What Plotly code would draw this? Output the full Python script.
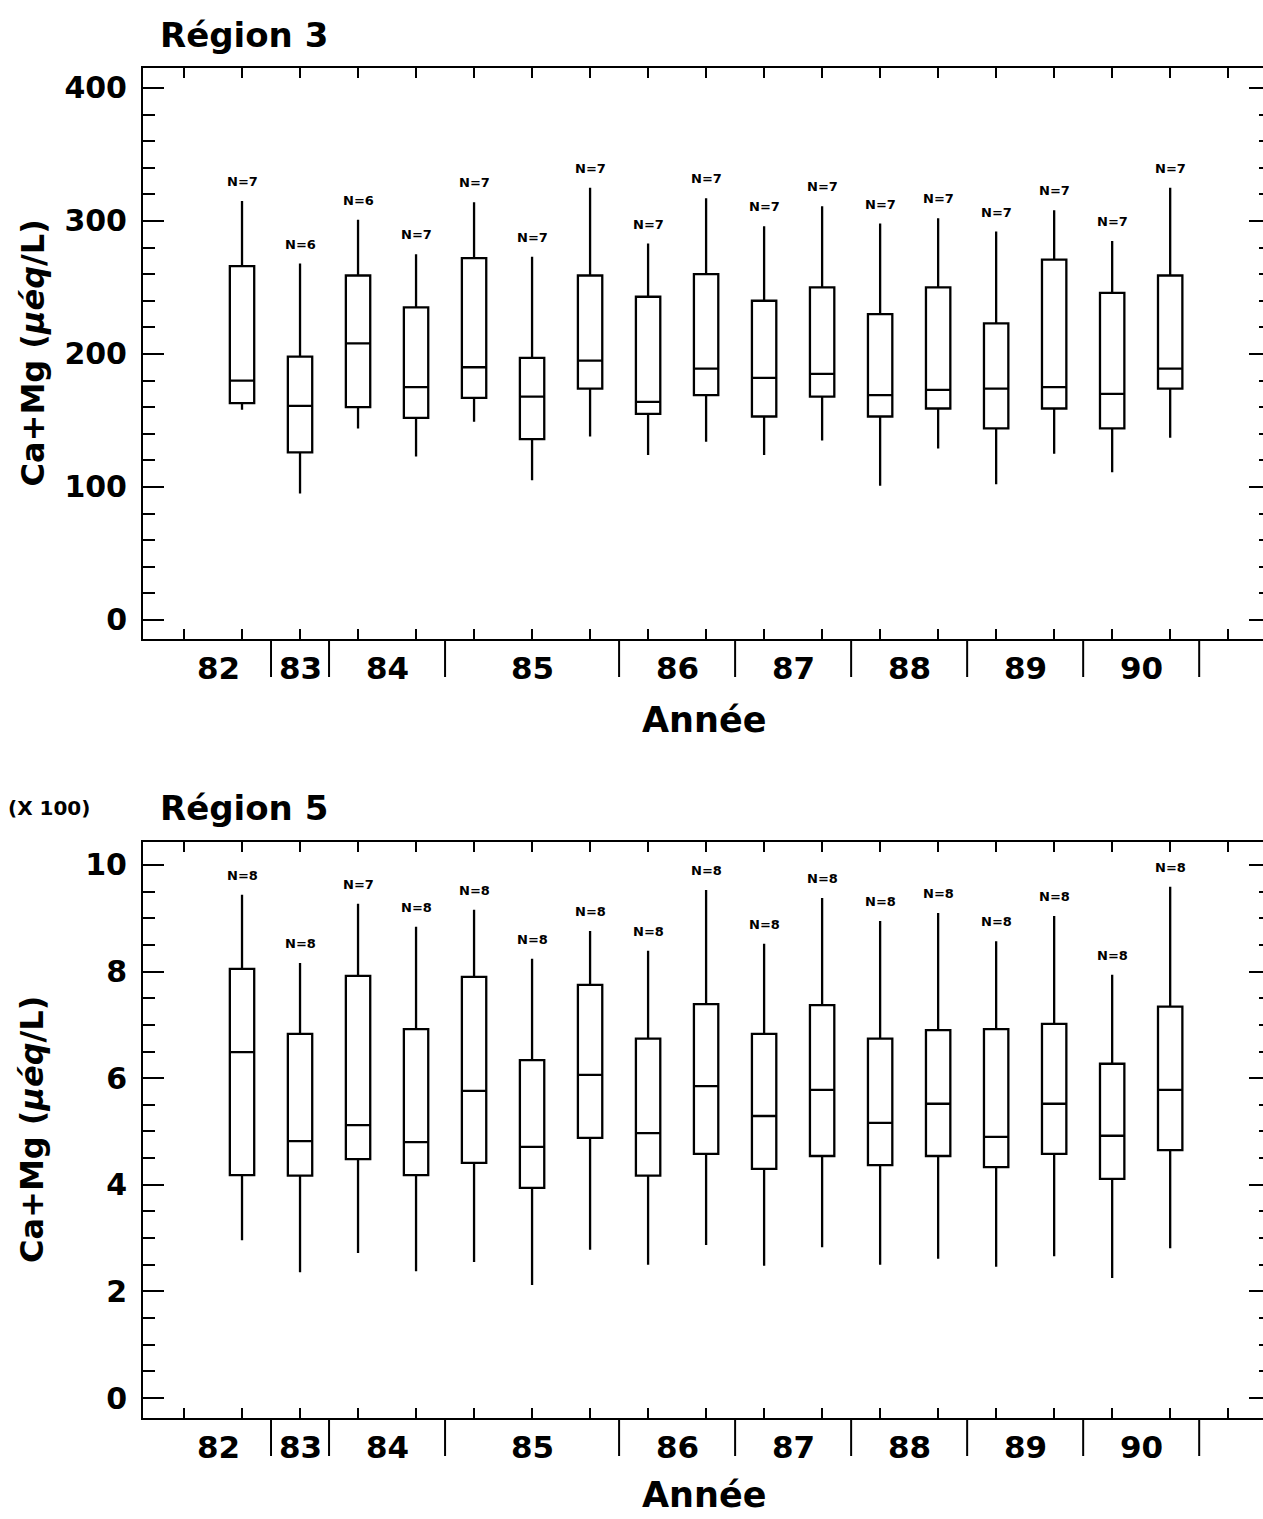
import plotly.graph_objects as go

# ---------------- data ----------------
positions = list(range(1, 18))
year_labels = ["82", "83", "84", "85", "86", "87", "88", "89", "90"]
year_label_pos = [0.6, 2, 3.5, 6, 8.5, 10.5, 12.5, 14.5, 16.5]
group_bounds = [1.5, 2.5, 4.5, 7.5, 9.5, 11.5, 13.5, 15.5, 17.5]

# Région 3 (µéq/L)
r3_hi = [315, 268, 301, 275, 314, 273, 325, 283, 317, 296, 311, 298, 302, 292, 308, 285, 325]
r3_q3 = [266, 198, 259, 235, 272, 197, 259, 243, 260, 240, 250, 230, 250, 223, 271, 246, 259]
r3_med = [180, 161, 208, 175, 190, 168, 195, 164, 189, 182, 185, 169, 173, 174, 175, 170, 189]
r3_q1 = [163, 126, 160, 152, 167, 136, 174, 155, 169, 153, 168, 153, 159, 144, 159, 144, 174]
r3_lo = [158, 95, 144, 123, 149, 105, 138, 124, 134, 124, 135, 101, 129, 102, 125, 111, 137]
r3_n = [7, 6, 6, 7, 7, 7, 7, 7, 7, 7, 7, 7, 7, 7, 7, 7, 7]

# Région 5 (x 100 µéq/L)
r5_hi = [9.44, 8.16, 9.27, 8.84, 9.16, 8.24, 8.76, 8.39, 9.53, 8.52, 9.38, 8.95, 9.10, 8.57, 9.04, 7.94, 9.59]
r5_q3 = [8.05, 6.83, 7.92, 6.92, 7.90, 6.34, 7.75, 6.74, 7.39, 6.83, 7.37, 6.74, 6.90, 6.92, 7.02, 6.27, 7.34]
r5_med = [6.49, 4.82, 5.12, 4.80, 5.76, 4.71, 6.06, 4.97, 5.85, 5.29, 5.78, 5.16, 5.52, 4.90, 5.52, 4.92, 5.78]
r5_q1 = [4.18, 4.17, 4.48, 4.18, 4.41, 3.94, 4.88, 4.17, 4.58, 4.30, 4.54, 4.37, 4.54, 4.33, 4.58, 4.11, 4.65]
r5_lo = [2.96, 2.36, 2.72, 2.38, 2.55, 2.12, 2.78, 2.50, 2.87, 2.48, 2.83, 2.50, 2.61, 2.46, 2.66, 2.25, 2.81]
r5_n = [8, 8, 7, 8, 8, 8, 8, 8, 8, 8, 8, 8, 8, 8, 8, 8, 8]

# ---------------- figure ----------------
W, H = 1263, 1519
FONT = "DejaVu Sans"
BLACK = "black"

def px_y(y):
    return 1 - y / H

def bold(size):
    return dict(family=FONT, size=size, color=BLACK, weight="bold")

fig = go.Figure()

box_style = dict(width=0.42, line=dict(color=BLACK, width=2.3), fillcolor="white",
                 whiskerwidth=0, boxpoints=False, showlegend=False, hoverinfo="skip")

fig.add_trace(go.Box(x=positions, q1=r3_q1, median=r3_med, q3=r3_q3,
                     lowerfence=r3_lo, upperfence=r3_hi, xaxis="x", yaxis="y", **box_style))
fig.add_trace(go.Box(x=positions, q1=r5_q1, median=r5_med, q3=r5_q3,
                     lowerfence=r5_lo, upperfence=r5_hi, xaxis="x2", yaxis="y2", **box_style))
# empty traces so that the right-hand tick axes exist
fig.add_trace(go.Scatter(x=[None], y=[None], xaxis="x", yaxis="y3", showlegend=False, hoverinfo="skip"))
fig.add_trace(go.Scatter(x=[None], y=[None], xaxis="x2", yaxis="y4", showlegend=False, hoverinfo="skip"))

xdom = [143 / W, 1.0]
xrange = [-0.707, 18.6]
top_dom = [px_y(639), px_y(68)]
bot_dom = [px_y(1418), px_y(842)]
r3_range = [-14.3, 415]
r5_range = [-0.375, 10.43]

xcommon = dict(domain=xdom, range=xrange, tickmode="array", tickvals=list(range(0, 19)),
               ticks="inside", ticklen=10, tickwidth=2, tickcolor=BLACK,
               showticklabels=False, showline=True, linewidth=2, linecolor=BLACK,
               mirror="ticks", showgrid=False, zeroline=False, fixedrange=True)

def yleft(dom, rng, dtick, mdtick, anchor):
    return dict(domain=dom, range=rng, anchor=anchor, tick0=0, dtick=dtick,
                ticks="inside", ticklen=21, tickwidth=2, tickcolor=BLACK,
                minor=dict(tick0=0, dtick=mdtick, ticks="inside", ticklen=12,
                           tickwidth=2, tickcolor=BLACK, showgrid=False),
                showline=True, linewidth=2, linecolor=BLACK, showgrid=False,
                zeroline=False, tickfont=bold(30), ticklabelstandoff=8, fixedrange=True)

def yright(over, rng, dtick, mdtick, anchor):
    return dict(overlaying=over, side="right", anchor=anchor, range=rng, tick0=0, dtick=dtick,
                ticks="inside", ticklen=14, tickwidth=2, tickcolor=BLACK,
                minor=dict(tick0=0, dtick=mdtick, ticks="inside", ticklen=4,
                           tickwidth=2, tickcolor=BLACK, showgrid=False),
                showticklabels=False, showline=False, showgrid=False, zeroline=False,
                fixedrange=True)

fig.update_layout(
    width=W, height=H,
    margin=dict(l=0, r=0, t=0, b=0),
    paper_bgcolor="white", plot_bgcolor="white",
    font=dict(family=FONT, color=BLACK),
    xaxis=dict(anchor="y", **xcommon),
    xaxis2=dict(anchor="y2", **xcommon),
    yaxis=yleft(top_dom, r3_range, 100, 20, "x"),
    yaxis2=yleft(bot_dom, r5_range, 2, 0.5, "x2"),
    yaxis3=yright("y", r3_range, 100, 20, "x"),
    yaxis4=yright("y2", r5_range, 2, 0.5, "x2"),
)

annotations = []
shapes = []

for xa, ya, ns, his, axis_px, annee_px in [
    ("x", "y", r3_n, r3_hi, 639, 720),
    ("x2", "y2", r5_n, r5_hi, 1418, 1495),
]:
    # N labels above whiskers
    for p, n, hi in zip(positions, ns, his):
        annotations.append(dict(x=p, y=hi, xref=xa, yref=ya, text=f"N={n}",
                                showarrow=False, yanchor="bottom", yshift=10,
                                font=bold(13)))
    # year labels
    for lab, p in zip(year_labels, year_label_pos):
        annotations.append(dict(x=p, y=px_y(axis_px + 29), xref=xa, yref="paper", text=lab,
                                showarrow=False, yanchor="middle", xanchor="center",
                                font=bold(31)))
    # group separators below the axis
    for b in group_bounds:
        shapes.append(dict(type="line", xref=xa, yref="paper", x0=b, x1=b,
                           y0=px_y(axis_px), y1=px_y(axis_px + 38),
                           line=dict(color=BLACK, width=2)))
    # x title
    annotations.append(dict(x=704 / W, y=px_y(annee_px), xref="paper", yref="paper",
                            text="Année", showarrow=False, yanchor="middle",
                            font=bold(35)))

# y-axis titles
for cy in [(68 + 639) / 2, (842 + 1418) / 2]:
    annotations.append(dict(x=32 / W, y=px_y(cy), xref="paper", yref="paper",
                            text="Ca+Mg (<i>µéq</i>/L)", textangle=-90, showarrow=False,
                            xanchor="center", yanchor="middle", font=bold(32)))

# panel titles
annotations.append(dict(x=158 / W, y=px_y(35), xref="paper", yref="paper", text="Région 3",
                        showarrow=False, xanchor="left", yanchor="middle", font=bold(34)))
annotations.append(dict(x=158 / W, y=px_y(808), xref="paper", yref="paper", text="Région 5",
                        showarrow=False, xanchor="left", yanchor="middle", font=bold(34)))
annotations.append(dict(x=6 / W, y=px_y(808), xref="paper", yref="paper", text="(X 100)",
                        showarrow=False, xanchor="left", yanchor="middle", font=bold(20)))

fig.update_layout(annotations=annotations, shapes=shapes)

fig.write_html("out.html")
